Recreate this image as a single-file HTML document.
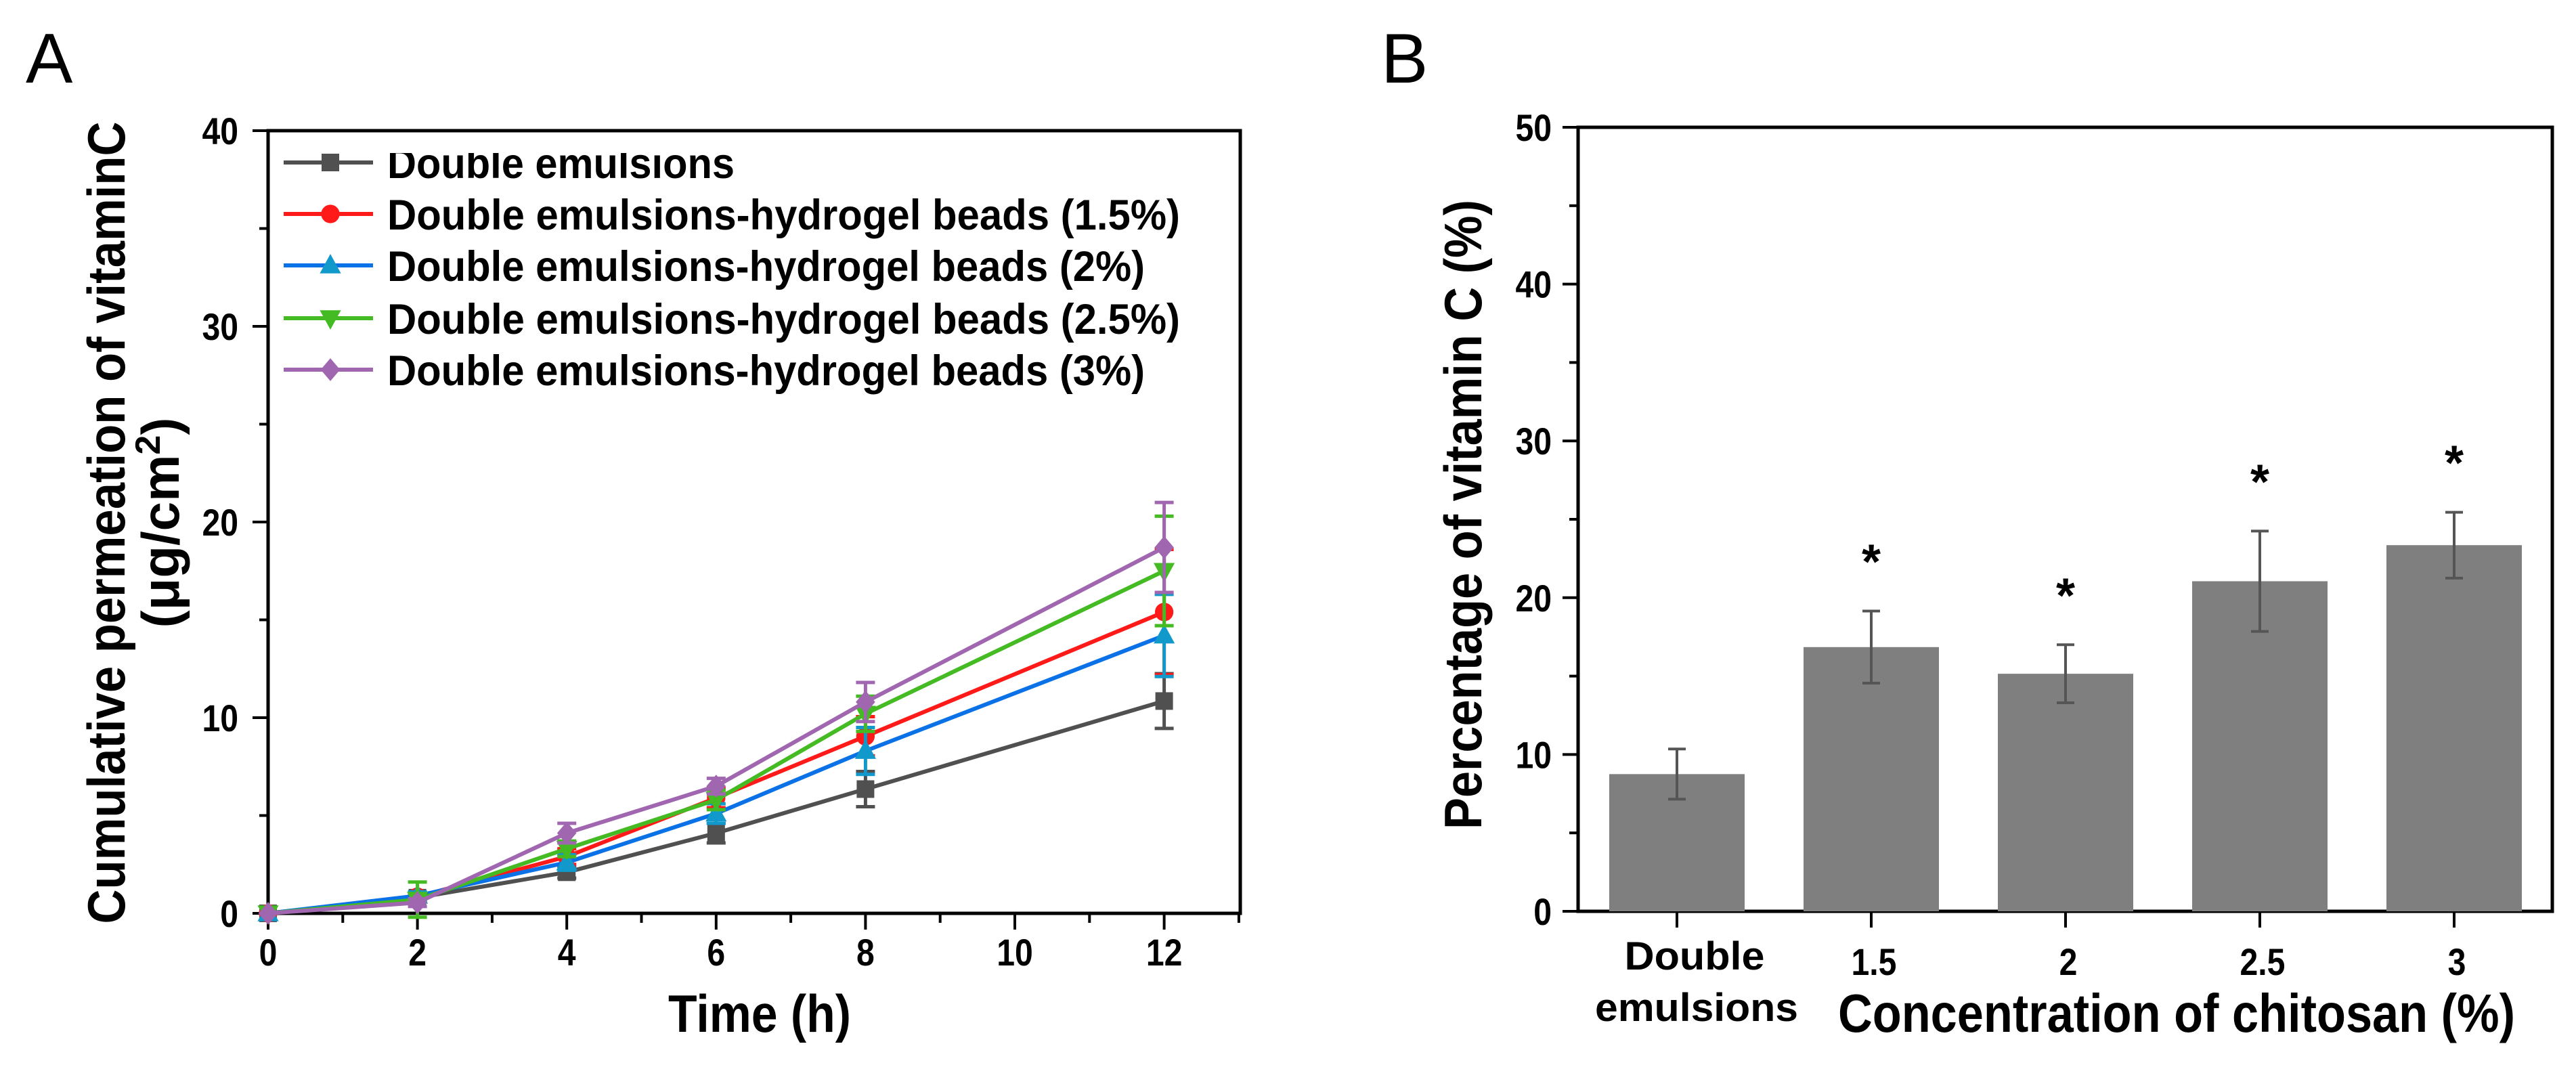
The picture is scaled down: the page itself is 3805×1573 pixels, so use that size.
<!DOCTYPE html>
<html><head><meta charset="utf-8"><style>
html,body{margin:0;padding:0;background:#fff;}
svg{display:block;font-family:"Liberation Sans",Arial,sans-serif;}
</style></head><body>
<svg id="fig" width="3805" height="1573" viewBox="0 0 3805 1573" xmlns="http://www.w3.org/2000/svg">
<defs><clipPath id="legclip"><rect x="400" y="226" width="1420" height="1000"/></clipPath></defs>
<text x="38" y="122" font-size="104" fill="#000">A</text>
<text x="2040" y="122" font-size="104" fill="#000">B</text>
<g id="pa"></g>
<g id="pb"></g>
</svg>
<script>
// ===== Panel A data =====
const timesA = [0, 2, 4, 6, 8, 12];
const seriesNames = ["Double emulsions","Double emulsions-hydrogel beads (1.5%)","Double emulsions-hydrogel beads (2%)","Double emulsions-hydrogel beads (2.5%)","Double emulsions-hydrogel beads (3%)"];
const deVals = [0, 0.8, 2.1, 4.1, 6.35, 10.85];
const deErr = [0, 0.1, 0.3, 0.5, 0.9, 1.4];
const b15Vals = [0, 0.85, 2.9, 5.9, 9.05, 15.4];
const b15Err = [0, 0.2, 0.4, 0.5, 1.0, 3.2];
const b2Vals = [0, 0.9, 2.6, 5.1, 8.3, 14.2];
const b2Err = [0, 0.2, 0.4, 0.5, 1.2, 2.1];
const b25Vals = [0, 0.7, 3.3, 5.8, 10.2, 17.5];
const b25Err = [0, 0.9, 0.4, 0.5, 0.9, 2.8];
const b3Vals = [0, 0.55, 4.1, 6.5, 10.8, 18.7];
const b3Err = [0, 0.2, 0.5, 0.4, 1.0, 2.3];
const xTicksA = [0, 2, 4, 6, 8, 10, 12];
const yTicksA = [0, 10, 20, 30, 40];
// ===== Panel B data =====
const catsB = ["Double emulsions", "1.5", "2", "2.5", "3"];
const pctVals = [8.75, 16.85, 15.15, 21.05, 23.35];
const pctErr = [1.6, 2.3, 1.85, 3.2, 2.1];
const sigB = [false, true, true, true, true];
const yTicksB = [0, 10, 20, 30, 40, 50];

const NS = "http://www.w3.org/2000/svg";
function mk(parent, tag, attrs, txt){
  const e = document.createElementNS(NS, tag);
  for (const k in attrs) e.setAttribute(k, attrs[k]);
  if (txt !== undefined) e.textContent = txt;
  parent.appendChild(e);
  return e;
}
function digitW(s, fs){ let w=0; for(const c of s){ w += (c==='.')?0.278:0.556; } return w*fs*0.86; }

// ---------- Panel A ----------
const pa = document.getElementById('pa');
const AX0=396, AX1=1832, AY0=1349, AY1=193;
const xA = t => AX0 + t*110.3;
const yA = v => AY0 - (v/40)*(AY0-AY1);
// frame
const fa = mk(pa,'rect',{x:AX0,y:AY1,width:AX1-AX0,height:AY0-AY1,fill:'none',stroke:'#000','stroke-width':5});


// x ticks
for (let t=0;t<=13;t++){
  const major = t%2===0;
  const tk = mk(pa,'line',{x1:xA(t),x2:xA(t),y1:AY0,y2:AY0+(major?24:14),stroke:'#000','stroke-width':4});
  
  
}
xTicksA.forEach(t=>{
  const s=String(t);
  const lb = mk(pa,'text',{x:xA(t),y:1426,'font-size':56,'font-weight':'bold','text-anchor':'middle',textLength:digitW(s,56),lengthAdjust:'spacingAndGlyphs'},s);
  
  
});
// y ticks
for (let v=0; v<=40; v+=5){
  const major = v%10===0;
  const tk = mk(pa,'line',{x1:AX0,x2:AX0-(major?23:13),y1:yA(v),y2:yA(v),stroke:'#000','stroke-width':4});
  
  
}
yTicksA.forEach(v=>{
  const s=String(v);
  const lb = mk(pa,'text',{x:352,y:yA(v)+20,'font-size':56,'font-weight':'bold','text-anchor':'end',textLength:digitW(s,56),lengthAdjust:'spacingAndGlyphs'},s);
  
  
});
// axis titles
const xtA = mk(pa,'text',{x:1122,y:1524,'font-size':78,'font-weight':'bold','text-anchor':'middle',textLength:270,lengthAdjust:'spacingAndGlyphs'},'Time (h)');


const yt1 = mk(pa,'text',{x:0,y:0,'font-size':78,'font-weight':'bold','text-anchor':'middle',transform:'translate(184,772) rotate(-90)',textLength:1185,lengthAdjust:'spacingAndGlyphs'},'Cumulative permeation of vitaminC');


const yt2 = mk(pa,'text',{x:0,y:0,'font-size':78,'font-weight':'bold','text-anchor':'middle',transform:'translate(264,772) rotate(-90)'});


mk(yt2,'tspan',{},'(μg/cm');
mk(yt2,'tspan',{dy:-28,'font-size':52},'2');
mk(yt2,'tspan',{dy:28},')');

const colsLine = ['#505050','#ff1a1a','#0a72e6','#44bb22','#a066b0'];
const colsMark = ['#505050','#ff1a1a','#1199cc','#44bb22','#a066b0'];
const shapes = ['square','circle','up','down','diamond'];
const valsAll = [deVals,b15Vals,b2Vals,b25Vals,b3Vals];
const errAll = [deErr,b15Err,b2Err,b25Err,b3Err];
function marker(g, shape, cx, cy, col, s){
  let e;
  if (shape==='square') e = mk(g,'rect',{x:cx-s,y:cy-s,width:2*s,height:2*s,fill:col});
  else if (shape==='circle') e = mk(g,'circle',{cx:cx,cy:cy,r:s*1.05,fill:col});
  else if (shape==='up') e = mk(g,'polygon',{points:`${cx},${cy-s*1.3} ${cx-s*1.2},${cy+s*0.9} ${cx+s*1.2},${cy+s*0.9}`,fill:col});
  else if (shape==='down') e = mk(g,'polygon',{points:`${cx},${cy+s*1.3} ${cx-s*1.2},${cy-s*0.9} ${cx+s*1.2},${cy-s*0.9}`,fill:col});
  else e = mk(g,'polygon',{points:`${cx},${cy-s*1.3} ${cx+s*1.1},${cy} ${cx},${cy+s*1.3} ${cx-s*1.1},${cy}`,fill:col});
  return e;
}
for (let i=0;i<5;i++){
  const g = mk(pa,'g',{});
  
  
  const pts = timesA.map((t,j)=>xA(t)+','+yA(valsAll[i][j])).join(' ');
  const pl = mk(g,'polyline',{points:pts,fill:'none',stroke:colsLine[i],'stroke-width':6,'stroke-linejoin':'round'});
  
  
  timesA.forEach((t,j)=>{
    const v = valsAll[i][j], e = errAll[i][j];
    if (e>0){
      const eb = mk(g,'path',{d:`M${xA(t)},${yA(v+e)}V${yA(v-e)}M${xA(t)-14},${yA(v+e)}H${xA(t)+14}M${xA(t)-14},${yA(v-e)}H${xA(t)+14}`,stroke:colsMark[i],'stroke-width':5,fill:'none'});
      
      
    }
    const m = marker(g, shapes[i], xA(t), yA(v), colsMark[i], 13);
    
    
  });
}
// legend
const leg = mk(pa,'g',{'clip-path':'url(#legclip)'});


const legY = [240,316,392,470,546];
const legW = [513,1171,1119,1171,1119];
for (let i=0;i<5;i++){
  const ge = mk(leg,'g',{});
  
  
  mk(ge,'line',{x1:419,x2:551,y1:legY[i],y2:legY[i],stroke:colsLine[i],'stroke-width':6});
  marker(ge, shapes[i], 488, legY[i], colsMark[i], 13);
  mk(ge,'text',{x:572,y:legY[i]+23,'font-size':63,'font-weight':'bold',textLength:legW[i],lengthAdjust:'spacingAndGlyphs'},seriesNames[i]);
}

// ---------- Panel B ----------
const pb = document.getElementById('pb');
const BX0=2331, BX1=3770, BY0=1346, BY1=188;
const yB = v => BY0 - (v/50)*(BY0-BY1);
const xB = i => 2477 + i*287;
const fb = mk(pb,'rect',{x:BX0,y:BY1,width:BX1-BX0,height:BY0-BY1,fill:'none',stroke:'#000','stroke-width':5});


for (let v=0; v<=50; v+=5){
  const major = v%10===0;
  const tk = mk(pb,'line',{x1:BX0,x2:BX0-(major?23:13),y1:yB(v),y2:yB(v),stroke:'#000','stroke-width':4});
  
  
}
yTicksB.forEach(v=>{
  const s=String(v);
  const lb = mk(pb,'text',{x:2292,y:yB(v)+20,'font-size':56,'font-weight':'bold','text-anchor':'end',textLength:digitW(s,56),lengthAdjust:'spacingAndGlyphs'},s);
  
  
});
catsB.forEach((c,i)=>{
  const tk = mk(pb,'line',{x1:xB(i),x2:xB(i),y1:BY0,y2:BY0+24,stroke:'#000','stroke-width':4});
  
  
  const bar = mk(pb,'rect',{x:xB(i)-100,y:yB(pctVals[i]),width:200,height:BY0-yB(pctVals[i]),fill:'#7f7f7f'});
  
  
  const v=pctVals[i], e=pctErr[i], x=xB(i);
  const eb = mk(pb,'path',{d:`M${x},${yB(v+e)}V${yB(v-e)}M${x-13},${yB(v+e)}H${x+13}M${x-13},${yB(v-e)}H${x+13}`,stroke:'#555','stroke-width':4,fill:'none'});
  
  
  if (sigB[i]){
    const st = mk(pb,'text',{x:x,y:yB(v+e)-48,'font-size':72,'font-weight':'bold','text-anchor':'middle'},'*');
    
    
  }
  if (i===0){
    const l1 = mk(pb,'text',{x:2503,y:1432,'font-size':58,'font-weight':'bold','text-anchor':'middle',textLength:207,lengthAdjust:'spacingAndGlyphs'},'Double');
    
    
    const l2 = mk(pb,'text',{x:2506,y:1508,'font-size':58,'font-weight':'bold','text-anchor':'middle',textLength:300,lengthAdjust:'spacingAndGlyphs'},'emulsions');
    
    
  } else {
    const lb = mk(pb,'text',{x:x+4,y:1440,'font-size':56,'font-weight':'bold','text-anchor':'middle',textLength:digitW(c,56),lengthAdjust:'spacingAndGlyphs'},c);
    
    
  }
});
const xtB = mk(pb,'text',{x:3215,y:1524,'font-size':80,'font-weight':'bold','text-anchor':'middle',textLength:1000,lengthAdjust:'spacingAndGlyphs'},'Concentration of chitosan (%)');


const ytB = mk(pb,'text',{x:0,y:0,'font-size':78,'font-weight':'bold','text-anchor':'middle',transform:'translate(2188,760) rotate(-90)',textLength:930,lengthAdjust:'spacingAndGlyphs'},'Percentage of vitamin C (%)');


</script>
</body></html>
